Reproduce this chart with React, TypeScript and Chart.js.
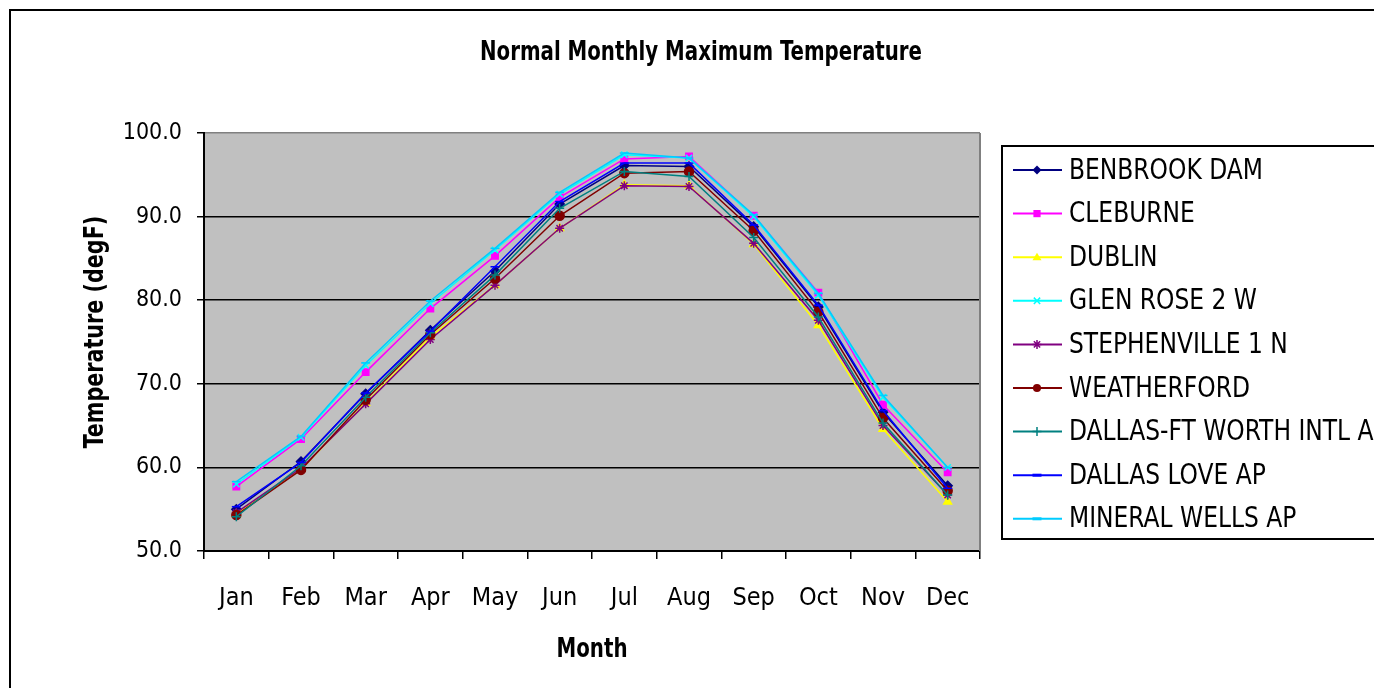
import React, { useEffect, useRef } from "react";
import { Chart, registerables } from "chart.js";

Chart.register(...registerables);

const months = ["Jan", "Feb", "Mar", "Apr", "May", "Jun", "Jul", "Aug", "Sep", "Oct", "Nov", "Dec"];
const yTicks = [50, 60, 70, 80, 90, 100];

const seriesNames = [
  "BENBROOK DAM",
  "CLEBURNE",
  "DUBLIN",
  "GLEN ROSE 2 W",
  "STEPHENVILLE 1 N",
  "WEATHERFORD",
  "DALLAS-FT WORTH INTL AP",
  "DALLAS LOVE AP",
  "MINERAL WELLS AP",
];

const benbrook = [55.0, 60.7, 68.8, 76.4, 83.5, 91.5, 96.1, 96.0, 88.8, 79.2, 66.6, 57.8];
const cleburne = [57.7, 63.4, 71.4, 79.0, 85.3, 92.3, 96.9, 97.2, 90.1, 80.9, 67.5, 59.4];
const dublin = [54.4, 59.8, 67.7, 75.6, 81.8, 88.6, 93.8, 93.7, 86.7, 77.0, 64.6, 55.9];
const glenRose = [58.0, 63.6, 72.2, 79.6, 86.0, 92.7, 97.4, 97.0, 90.0, 80.6, 68.4, 60.0];
const stephenville = [54.6, 59.9, 67.6, 75.3, 81.8, 88.6, 93.7, 93.6, 86.8, 77.6, 65.0, 56.7];
const weatherford = [54.3, 59.7, 68.1, 75.9, 82.6, 90.1, 95.2, 95.4, 88.3, 78.6, 65.9, 57.2];
const dfw = [54.1, 60.2, 68.4, 76.1, 83.0, 91.0, 95.4, 94.8, 87.5, 78.0, 65.3, 56.7];
const dallasLove = [55.3, 60.6, 68.9, 76.3, 84.0, 91.8, 96.4, 96.4, 89.0, 79.4, 66.8, 57.5];
const mineralWells = [58.3, 63.7, 72.5, 79.9, 86.2, 92.9, 97.6, 97.0, 90.2, 80.8, 68.6, 60.0];

const seriesValues = [benbrook, cleburne, dublin, glenRose, stephenville, weatherford, dfw, dallasLove, mineralWells];
const seriesColors = ["#000080", "#FF00FF", "#FFFF00", "#00FFFF", "#800080", "#800000", "#008080", "#0000FF", "#00CCFF"];
const seriesMarkers = ["rectRot", "rect", "triangle", "crossRot", "star", "circle", "cross", "line", "line"];

const FONT = "'DejaVu Sans Condensed', 'Liberation Sans', sans-serif";

function drawMarker(ctx: CanvasRenderingContext2D, style: string, x: number, y: number, r: number, color: string) {
  ctx.save();
  ctx.fillStyle = color;
  ctx.strokeStyle = color;
  ctx.lineWidth = 1.5;
  ctx.beginPath();
  switch (style) {
    case "rectRot":
      ctx.moveTo(x, y - r);
      ctx.lineTo(x + r, y);
      ctx.lineTo(x, y + r);
      ctx.lineTo(x - r, y);
      ctx.closePath();
      ctx.fill();
      break;
    case "rect":
      ctx.rect(x - r * 0.8, y - r * 0.8, r * 1.6, r * 1.6);
      ctx.fill();
      break;
    case "triangle":
      ctx.moveTo(x, y - r);
      ctx.lineTo(x + r, y + r * 0.7);
      ctx.lineTo(x - r, y + r * 0.7);
      ctx.closePath();
      ctx.fill();
      break;
    case "crossRot":
      ctx.moveTo(x - r * 0.7, y - r * 0.7);
      ctx.lineTo(x + r * 0.7, y + r * 0.7);
      ctx.moveTo(x + r * 0.7, y - r * 0.7);
      ctx.lineTo(x - r * 0.7, y + r * 0.7);
      ctx.stroke();
      break;
    case "star":
      ctx.moveTo(x - r * 0.7, y - r * 0.7);
      ctx.lineTo(x + r * 0.7, y + r * 0.7);
      ctx.moveTo(x + r * 0.7, y - r * 0.7);
      ctx.lineTo(x - r * 0.7, y + r * 0.7);
      ctx.moveTo(x, y - r);
      ctx.lineTo(x, y + r);
      ctx.moveTo(x - r, y);
      ctx.lineTo(x + r, y);
      ctx.stroke();
      break;
    case "circle":
      ctx.arc(x, y, r * 0.9, 0, Math.PI * 2);
      ctx.fill();
      break;
    case "cross":
      ctx.moveTo(x, y - r);
      ctx.lineTo(x, y + r);
      ctx.moveTo(x - r, y);
      ctx.lineTo(x + r, y);
      ctx.stroke();
      break;
    case "line":
      ctx.lineWidth = 3;
      ctx.moveTo(x - r, y);
      ctx.lineTo(x + r, y);
      ctx.stroke();
      break;
  }
  ctx.restore();
}

function squeezedText(
  ctx: CanvasRenderingContext2D,
  text: string,
  x: number,
  y: number,
  font: string,
  sx: number,
  align: CanvasTextAlign,
  rotate = 0
) {
  ctx.save();
  ctx.translate(x, y);
  if (rotate) ctx.rotate(rotate);
  ctx.scale(sx, 1);
  ctx.font = font;
  ctx.textAlign = align;
  ctx.textBaseline = "middle";
  ctx.fillStyle = "#000";
  ctx.fillText(text, 0, 0);
  ctx.restore();
}

const decorPlugin = {
  id: "decor",
  beforeDraw(chart: any) {
    const { ctx, chartArea } = chart;
    ctx.save();
    ctx.fillStyle = "#FFFFFF";
    ctx.fillRect(0, 0, chart.width, chart.height);
    ctx.fillStyle = "#C0C0C0";
    ctx.fillRect(chartArea.left, chartArea.top, chartArea.right - chartArea.left, chartArea.bottom - chartArea.top);
    ctx.strokeStyle = "#000";
    ctx.lineWidth = 2;
    ctx.strokeRect(10, 10, chart.width + 20, chart.height + 20);
    ctx.restore();
  },
  afterDraw(chart: any) {
    const { ctx, chartArea } = chart;
    ctx.save();
    ctx.strokeStyle = "#808080";
    ctx.lineWidth = 2;
    ctx.beginPath();
    ctx.moveTo(chartArea.right, chartArea.top);
    ctx.lineTo(chartArea.right, chartArea.bottom);
    ctx.stroke();

    squeezedText(ctx, "Normal Monthly Maximum Temperature", 701, 53, `bold 27px ${FONT}`, 22 / 27, "center");
    squeezedText(ctx, "Month", (chartArea.left + chartArea.right) / 2, 650, `bold 27px ${FONT}`, 22 / 27, "center");
    squeezedText(ctx, "Temperature (degF)", 96, 332, `bold 27px ${FONT}`, 23 / 27, "center", -Math.PI / 2);

    ctx.strokeStyle = "#000";
    ctx.lineWidth = 2;
    ctx.strokeRect(1002, 146, 420, 393);
    seriesNames.forEach((name, i) => {
      const y = 170 + i * 43.6;
      ctx.strokeStyle = seriesColors[i];
      ctx.lineWidth = 2;
      ctx.beginPath();
      ctx.moveTo(1013, y);
      ctx.lineTo(1062, y);
      ctx.stroke();
      drawMarker(ctx, seriesMarkers[i], 1037, y, 4.5, seriesColors[i]);
      squeezedText(ctx, name, 1069, y + 1, `29px ${FONT}`, 26 / 29, "left");
    });
    ctx.restore();
  },
};

export default function App() {
  const ref = useRef<HTMLCanvasElement | null>(null);
  useEffect(() => {
    document.body.style.margin = "0";
    const canvas = ref.current;
    if (!canvas) return;
    const chart = new Chart(canvas, {
      type: "line",
      data: {
        labels: months,
        datasets: seriesNames.map((name, i) => ({
          label: name,
          data: seriesValues[i],
          borderColor: seriesColors[i],
          backgroundColor: seriesColors[i],
          pointBackgroundColor: seriesColors[i],
          pointBorderColor: seriesColors[i],
          pointStyle: seriesMarkers[i] as any,
          pointRadius: 4.5,
          pointBorderWidth: 1.5,
          borderWidth: 1.5,
          tension: 0,
          fill: false,
          order: seriesNames.length - i,
        })),
      },
      options: {
        animation: false,
        responsive: false,
        maintainAspectRatio: false,
        layout: { padding: { left: 0, top: 133, right: 394, bottom: 0 } },
        plugins: {
          legend: { display: false },
          title: { display: false },
          tooltip: { enabled: false },
        },
        scales: {
          x: {
            type: "category",
            offset: true,
            grid: {
              offset: true,
              drawOnChartArea: false,
              drawTicks: true,
              tickLength: 8,
              color: "#000",
              lineWidth: 1.5,
            },
            border: { color: "#000", width: 2 },
            ticks: {
              font: { family: FONT, size: 25 },
              color: "#000",
              padding: 24,
              maxRotation: 0,
              autoSkip: false,
            },
            afterFit: (s: any) => {
              s.height = 137;
            },
          },
          y: {
            min: yTicks[0],
            max: yTicks[yTicks.length - 1],
            afterBuildTicks: (s: any) => {
              s.ticks = yTicks.map((v) => ({ value: v }));
            },
            ticks: {
              callback: (v: any) => Number(v).toFixed(1),
              padding: 15,
              font: { family: FONT, size: 23 },
              color: "#000",
            },
            grid: {
              color: (c: any) => (c.tick && c.tick.value === 100 ? "#808080" : "#000"),
              tickColor: "#000",
              lineWidth: 1.5,
              tickLength: 7,
            },
            border: { color: "#000", width: 2 },
            afterFit: (s: any) => {
              s.width = 204;
            },
          },
        },
      },
      plugins: [decorPlugin],
    });
    return () => chart.destroy();
  }, []);
  return (
    <div style={{ position: "absolute", left: 0, top: 0, width: 1374, height: 688 }}>
      <canvas ref={ref} width={1374} height={688} style={{ display: "block" }} />
    </div>
  );
}
